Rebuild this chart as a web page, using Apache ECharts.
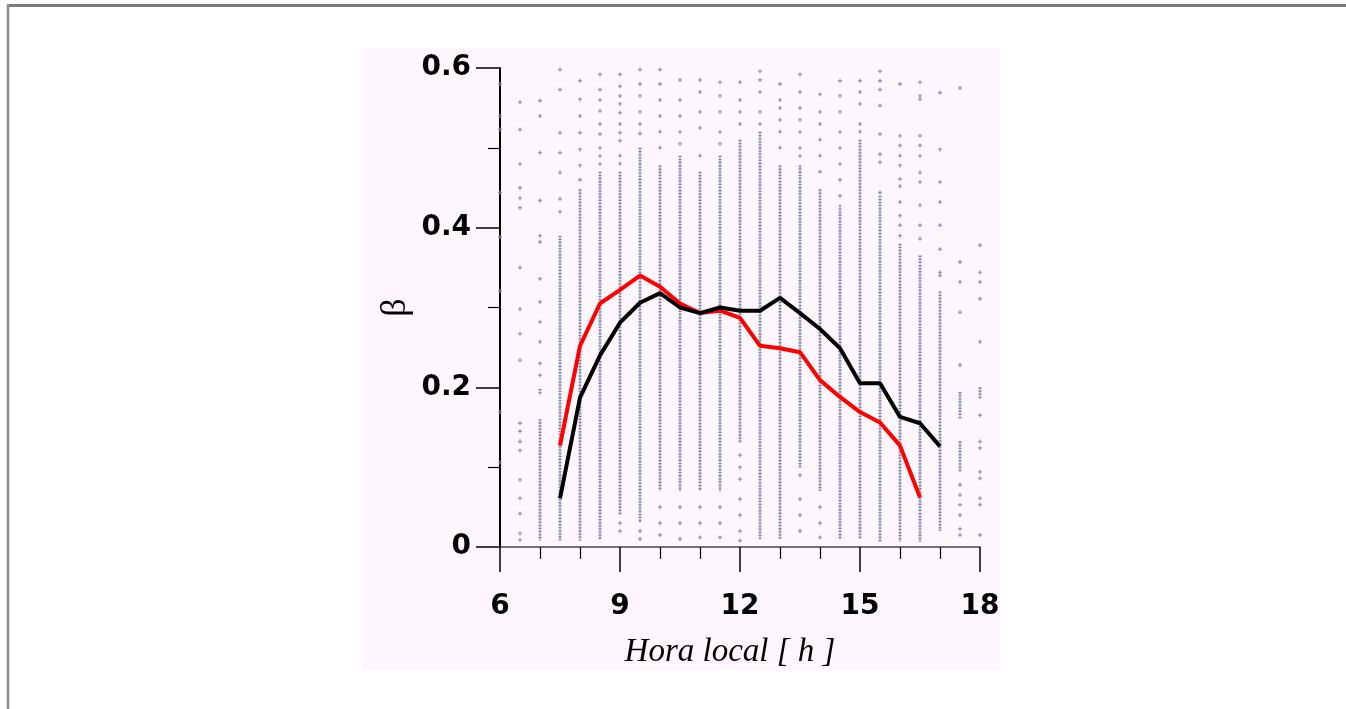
<!DOCTYPE html>
<html>
<head>
<meta charset="utf-8">
<title>beta vs hora local</title>
<script src="https://cdn.jsdelivr.net/npm/echarts@6/dist/echarts.min.js"></script>
<style>
  html, body { margin: 0; padding: 0; background: #fff; }
  #main { width: 1346px; height: 709px; }
</style>
</head>
<body>
<div id="main"></div>
<script>
// curvas medias (hora local, beta)
const redHours = [7.5, 8, 8.5, 9, 9.5, 10, 10.5, 11, 11.5, 12, 12.5, 13, 13.5, 14, 14.5, 15, 15.5, 16, 16.5];
const redBeta = [0.127, 0.252, 0.305, 0.322, 0.340, 0.326, 0.305, 0.293, 0.296, 0.287, 0.252, 0.249, 0.244, 0.209, 0.188, 0.169, 0.156, 0.127, 0.062];

const blackHours = [7.5, 8, 8.5, 9, 9.5, 10, 10.5, 11, 11.5, 12, 12.5, 13, 13.5, 14, 14.5, 15, 15.5, 16, 16.5, 17];
const blackBeta = [0.061, 0.187, 0.240, 0.281, 0.306, 0.318, 0.300, 0.293, 0.300, 0.296, 0.296, 0.312, 0.293, 0.273, 0.249, 0.205, 0.205, 0.163, 0.155, 0.126];

// tramos densos de medidas: [hora, beta min, beta max]
const denseRuns = [
  [7, 0.008, 0.160], [7, 0.190, 0.198],
  [7.5, 0.008, 0.390],
  [8, 0.008, 0.448],
  [8.5, 0.010, 0.470],
  [9, 0.040, 0.470],
  [9.5, 0.030, 0.500],
  [10, 0.070, 0.478],
  [10.5, 0.070, 0.490],
  [11, 0.070, 0.470],
  [11.5, 0.070, 0.490],
  [12, 0.130, 0.510],
  [12.5, 0.010, 0.520],
  [13, 0.010, 0.478],
  [13.5, 0.100, 0.478],
  [14, 0.070, 0.448],
  [14.5, 0.010, 0.428],
  [15, 0.010, 0.510],
  [15.5, 0.007, 0.440],
  [16, 0.007, 0.380],
  [16.5, 0.007, 0.365],
  [17, 0.020, 0.320],
  [17.5, 0.161, 0.194], [17.5, 0.094, 0.132],
  [18, 0.185, 0.200]
];

// medidas sueltas: [hora, beta]
const sparseDots = [
  [6, 0.580], [6, 0.540], [6, 0.523], [6, 0.444], [6, 0.388], [6, 0.321], [6, 0.169], [6, 0.106],
  [6.5, 0.557], [6.5, 0.523], [6.5, 0.480], [6.5, 0.450], [6.5, 0.437], [6.5, 0.425], [6.5, 0.350],
  [6.5, 0.298], [6.5, 0.267], [6.5, 0.234], [6.5, 0.155], [6.5, 0.145], [6.5, 0.132], [6.5, 0.121],
  [6.5, 0.084], [6.5, 0.061], [6.5, 0.042], [6.5, 0.017], [6.5, 0.009],
  [7, 0.559], [7, 0.540], [7, 0.494], [7, 0.434], [7, 0.390], [7, 0.382], [7, 0.336], [7, 0.307],
  [7, 0.282], [7, 0.257], [7, 0.230], [7, 0.215],
  [7.5, 0.598], [7.5, 0.573], [7.5, 0.519], [7.5, 0.494], [7.5, 0.469], [7.5, 0.436], [7.5, 0.420],
  [8, 0.584], [8, 0.561], [8, 0.540], [8, 0.519], [8, 0.498], [8, 0.478], [8, 0.460],
  [8.5, 0.592], [8.5, 0.573], [8.5, 0.560], [8.5, 0.546], [8.5, 0.530], [8.5, 0.517], [8.5, 0.500], [8.5, 0.490], [8.5, 0.480],
  [9, 0.592], [9, 0.577], [9, 0.565], [9, 0.555], [9, 0.544], [9, 0.530], [9, 0.519], [9, 0.509], [9, 0.490], [9, 0.480], [9, 0.030], [9, 0.020],
  [9.5, 0.598], [9.5, 0.580], [9.5, 0.565], [9.5, 0.545], [9.5, 0.530], [9.5, 0.518], [9.5, 0.020], [9.5, 0.010],
  [10, 0.598], [10, 0.580], [10, 0.560], [10, 0.540], [10, 0.520], [10, 0.500], [10, 0.050], [10, 0.030], [10, 0.015],
  [10.5, 0.585], [10.5, 0.560], [10.5, 0.540], [10.5, 0.520], [10.5, 0.505], [10.5, 0.050], [10.5, 0.030], [10.5, 0.010],
  [11, 0.585], [11, 0.570], [11, 0.545], [11, 0.525], [11, 0.490], [11, 0.050], [11, 0.030], [11, 0.012],
  [11.5, 0.582], [11.5, 0.565], [11.5, 0.545], [11.5, 0.520], [11.5, 0.505], [11.5, 0.050], [11.5, 0.030], [11.5, 0.012],
  [12, 0.582], [12, 0.560], [12, 0.545], [12, 0.530], [12, 0.115], [12, 0.100], [12, 0.085], [12, 0.060], [12, 0.040], [12, 0.020], [12, 0.008],
  [12.5, 0.596], [12.5, 0.585], [12.5, 0.570], [12.5, 0.545], [12.5, 0.530],
  [13, 0.580], [13, 0.560], [13, 0.550], [13, 0.535], [13, 0.520], [13, 0.500],
  [13.5, 0.592], [13.5, 0.570], [13.5, 0.550], [13.5, 0.535], [13.5, 0.520], [13.5, 0.500], [13.5, 0.490],
  [13.5, 0.090], [13.5, 0.060], [13.5, 0.040], [13.5, 0.020],
  [14, 0.567], [14, 0.545], [14, 0.530], [14, 0.510], [14, 0.490], [14, 0.470], [14, 0.050], [14, 0.030], [14, 0.012],
  [14.5, 0.584], [14.5, 0.565], [14.5, 0.545], [14.5, 0.520], [14.5, 0.500], [14.5, 0.480], [14.5, 0.460], [14.5, 0.440],
  [15, 0.584], [15, 0.570], [15, 0.555], [15, 0.530], [15, 0.520],
  [15.5, 0.596], [15.5, 0.584], [15.5, 0.573], [15.5, 0.553], [15.5, 0.517], [15.5, 0.492], [15.5, 0.482], [15.5, 0.444],
  [16, 0.580], [16, 0.515], [16, 0.503], [16, 0.490], [16, 0.478], [16, 0.461], [16, 0.452], [16, 0.432], [16, 0.415], [16, 0.403], [16, 0.390],
  [16.5, 0.582], [16.5, 0.565], [16.5, 0.561], [16.5, 0.515], [16.5, 0.503], [16.5, 0.490], [16.5, 0.469], [16.5, 0.457], [16.5, 0.428], [16.5, 0.403], [16.5, 0.386],
  [17, 0.569], [17, 0.498], [17, 0.457], [17, 0.432], [17, 0.403], [17, 0.373], [17, 0.344], [17, 0.340],
  [17.5, 0.575], [17.5, 0.357], [17.5, 0.332], [17.5, 0.294], [17.5, 0.228],
  [17.5, 0.078], [17.5, 0.065], [17.5, 0.053], [17.5, 0.040], [17.5, 0.023], [17.5, 0.015],
  [18, 0.378], [18, 0.344], [18, 0.332], [18, 0.311], [18, 0.257], [18, 0.165], [18, 0.132], [18, 0.124],
  [18, 0.094], [18, 0.086], [18, 0.061], [18, 0.053], [18, 0.015]
];

const xTicks = [6, 9, 12, 15, 18];
const yTicks = [0, 0.2, 0.4, 0.6];

const dotColor = '#7d84a8';

const chart = echarts.init(document.getElementById('main'));

const option = {
  backgroundColor: '#ffffff',
  animation: false,
  graphic: [
    { // marco de la pagina
      type: 'line', z: 100, silent: true,
      shape: { x1: 7, y1: 5.5, x2: 1346, y2: 5.5 },
      style: { stroke: '#7a7a7a', lineWidth: 3 }
    },
    {
      type: 'line', z: 100, silent: true,
      shape: { x1: 8, y1: 4, x2: 8, y2: 709 },
      style: { stroke: '#8c8c8c', lineWidth: 2.5 }
    },
    { // fondo rosado de la figura
      type: 'rect', z: -100, silent: true,
      shape: { x: 362, y: 48, width: 638, height: 622 },
      style: { fill: '#fdf6fc' }
    }
  ],
  grid: { left: 500, right: 366, top: 68, bottom: 162 },
  xAxis: {
    type: 'value',
    min: xTicks[0],
    max: xTicks[xTicks.length - 1],
    interval: 3,
    name: 'Hora local [ h ]',
    nameLocation: 'middle',
    nameGap: 89,
    nameTextStyle: {
      fontFamily: 'Liberation Serif', fontStyle: 'italic', fontSize: 33, color: '#000',
      padding: [0, 20, 0, 0]
    },
    axisLine: { onZero: false, lineStyle: { color: '#444', width: 1.5 } },
    axisTick: { inside: false, length: 25, lineStyle: { color: '#000', width: 1.5 } },
    minorTick: { show: true, splitNumber: 3, length: 12, lineStyle: { color: '#000', width: 1.2 } },
    splitLine: { show: false },
    axisLabel: {
      margin: 46, fontFamily: 'DejaVu Sans', fontWeight: 'bold', fontSize: 28, color: '#000'
    }
  },
  yAxis: {
    type: 'value',
    min: yTicks[0],
    max: yTicks[yTicks.length - 1],
    interval: 0.2,
    name: 'β',
    nameLocation: 'middle',
    nameGap: 86,
    nameRotate: 90,
    nameTextStyle: { fontFamily: 'Liberation Serif', fontSize: 36, color: '#000' },
    axisLine: { show: true, lineStyle: { color: '#000', width: 2 } },
    axisTick: { show: true, inside: false, length: 24, lineStyle: { color: '#000', width: 1.5 } },
    minorTick: { show: true, splitNumber: 2, length: 12, lineStyle: { color: '#000', width: 1.2 } },
    splitLine: { show: false },
    axisLabel: {
      margin: 29, fontFamily: 'DejaVu Sans', fontWeight: 'bold', fontSize: 28, color: '#000',
      formatter: v => (v === 0 ? '0' : v.toFixed(1))
    }
  },
  series: [
    {
      name: 'tramos',
      type: 'custom',
      data: denseRuns,
      encode: { x: 0, y: [1, 2] },
      z: 1,
      renderItem: function (params, api) {
        const lo = api.coord([api.value(0), api.value(1)]);
        const hi = api.coord([api.value(0), api.value(2)]);
        return {
          type: 'group',
          children: [
            {
              type: 'line',
              shape: { x1: hi[0], y1: hi[1], x2: lo[0], y2: lo[1] },
              style: { stroke: '#a6abc6', lineWidth: 1.2 }
            },
            {
              type: 'line',
              shape: { x1: hi[0], y1: hi[1], x2: lo[0], y2: lo[1] },
              style: { stroke: dotColor, lineWidth: 3, lineDash: [1.3, 1.8] }
            }
          ]
        };
      }
    },
    {
      name: 'medidas',
      type: 'scatter',
      data: sparseDots,
      symbol: 'path://M1,0H2V1H3V2H2V3H1V2H0V1H1Z',
      symbolSize: 4,
      itemStyle: { color: dotColor },
      z: 1
    },
    {
      name: 'rojo',
      type: 'line',
      data: redHours.map((h, i) => [h, redBeta[i]]),
      showSymbol: false,
      lineStyle: { color: '#ff0000', width: 4 },
      z: 3
    },
    {
      name: 'negro',
      type: 'line',
      data: blackHours.map((h, i) => [h, blackBeta[i]]),
      showSymbol: false,
      lineStyle: { color: '#000000', width: 4 },
      z: 4
    }
  ]
};

chart.setOption(option);
window.addEventListener('resize', () => chart.resize());
</script>
</body>
</html>
